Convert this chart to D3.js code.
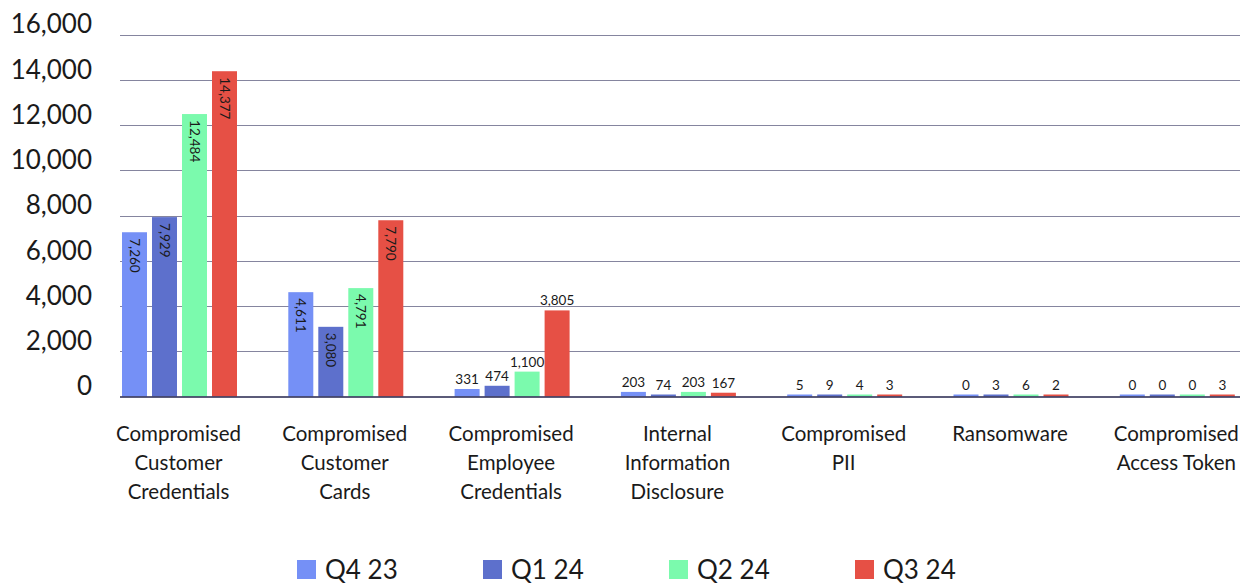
<!DOCTYPE html>
<html>
<head>
<meta charset="utf-8">
<script src="https://cdn.jsdelivr.net/npm/d3@7"></script>
<style>
  html, body { margin: 0; padding: 0; background: #fff; }
  svg { display: block; font-family: Lato, "Noto Sans", sans-serif; }
</style>
</head>
<body>
<svg id="chart" width="1245" height="585"></svg>
<script>
// Incident categories (each label split into display lines)
const categories = [
  ["Compromised", "Customer", "Credentials"],
  ["Compromised", "Customer", "Cards"],
  ["Compromised", "Employee", "Credentials"],
  ["Internal", "Information", "Disclosure"],
  ["Compromised", "PII"],
  ["Ransomware"],
  ["Compromised", "Access Token"]
];
const seriesNames = ["Q4 23", "Q1 24", "Q2 24", "Q3 24"];
const q4_23 = [7260, 4611, 331, 203, 5, 0, 0];
const q1_24 = [7929, 3080, 474, 74, 9, 3, 0];
const q2_24 = [12484, 4791, 1100, 203, 4, 6, 0];
const q3_24 = [14377, 7790, 3805, 167, 3, 2, 3];
const yTicks = [0, 2000, 4000, 6000, 8000, 10000, 12000, 14000, 16000];

const seriesValues = [q4_23, q1_24, q2_24, q3_24];
const colors = ["#7590f6", "#5d70cc", "#7bfaad", "#e65045"];
// categories whose value labels sit rotated inside the bars
const insideLabelCats = new Set([0, 1]);

const svg = d3.select("#chart");
const catKeys = categories.map(c => c.join(" "));

const y = d3.scaleLinear().domain([0, 16000]).range([396.5, 34.5]);
const x = d3.scaleBand().domain(catKeys).range([96.35, 1260.45]).padding(0);
const xs = d3.scaleBand().domain(seriesNames)
  .range([-57.5, 57.5]).paddingInner(1 / 6).paddingOuter(0);

const gridX0 = 120, gridX1 = 1240;
const fmt = d3.format(",");

// gridlines
svg.append("g").selectAll("line")
  .data(yTicks.filter(t => t > 0))
  .join("line")
  .attr("x1", gridX0).attr("x2", gridX1)
  .attr("y1", d => Math.round(y(d)) + 0.5).attr("y2", d => Math.round(y(d)) + 0.5)
  .attr("stroke", "#85859f").attr("stroke-width", 1.2);

// y axis labels
const yAxis = d3.axisLeft(y).tickValues(yTicks).tickFormat(fmt).tickSize(0).tickPadding(0);
const yg = svg.append("g").attr("transform", "translate(92,0)").call(yAxis);
yg.select(".domain").remove();
yg.selectAll("text")
  .attr("font-size", 26).attr("fill", "#1a1a1a")
  .attr("font-family", "Lato, sans-serif")
  .attr("dy", "-0.06em");

// bars
const rows = [];
catKeys.forEach((c, ci) => {
  seriesNames.forEach((s, si) => {
    rows.push({ cat: c, ci, s, si, v: seriesValues[si][ci] });
  });
});

const barX = d => x(d.cat) + x.bandwidth() / 2 + xs(d.s);
const barTop = d => Math.min(y(d.v), y(0) - 2);

svg.append("g").selectAll("rect")
  .data(rows).join("rect")
  .attr("x", barX)
  .attr("width", xs.bandwidth())
  .attr("y", barTop)
  .attr("height", d => y(0) - barTop(d))
  .attr("fill", d => colors[d.si]);

// baseline
svg.append("line")
  .attr("x1", gridX0).attr("x2", gridX1)
  .attr("y1", y(0) + 0.5).attr("y2", y(0) + 0.5)
  .attr("stroke", "#25254d").attr("stroke-width", 1.5);

// value labels
const lbl = svg.append("g").attr("font-size", 13.5).attr("fill", "#1a1a1a");
lbl.selectAll("text.in")
  .data(rows.filter(d => insideLabelCats.has(d.ci)))
  .join("text").attr("class", "in")
  .attr("transform", d => `translate(${barX(d) + xs.bandwidth() / 2},${y(d.v) + 6}) rotate(90)`)
  .attr("text-anchor", "start")
  .attr("dy", "0.35em")
  .text(d => fmt(d.v));
lbl.selectAll("text.out")
  .data(rows.filter(d => !insideLabelCats.has(d.ci)))
  .join("text").attr("class", "out")
  .attr("x", d => barX(d) + xs.bandwidth() / 2)
  .attr("y", d => barTop(d) - 5)
  .attr("text-anchor", "middle")
  .text(d => fmt(d.v));

// category labels
const cg = svg.append("g").attr("font-size", 20.5).attr("fill", "#1a1a1a").attr("text-anchor", "middle");
categories.forEach((lines, ci) => {
  const cx = x(catKeys[ci]) + x.bandwidth() / 2 - 1;
  const t = cg.append("text").attr("x", cx).attr("y", 441);
  lines.forEach((ln, li) => {
    t.append("tspan")
      .attr("x", cx)
      .attr("dy", li === 0 ? 0 : 29)
      .text(ln);
  });
});

// legend
const legendX = d3.scalePoint().domain(seriesNames).range([297, 855]);
const lg = svg.append("g").selectAll("g").data(seriesNames).join("g")
  .attr("transform", d => `translate(${legendX(d)},560)`);
lg.append("rect").attr("width", 19).attr("height", 19)
  .attr("fill", (d, i) => colors[i]);
lg.append("text").attr("x", 28).attr("y", 19)
  .attr("font-size", 26).attr("fill", "#1a1a1a")
  .text(d => d);
</script>
</body>
</html>
